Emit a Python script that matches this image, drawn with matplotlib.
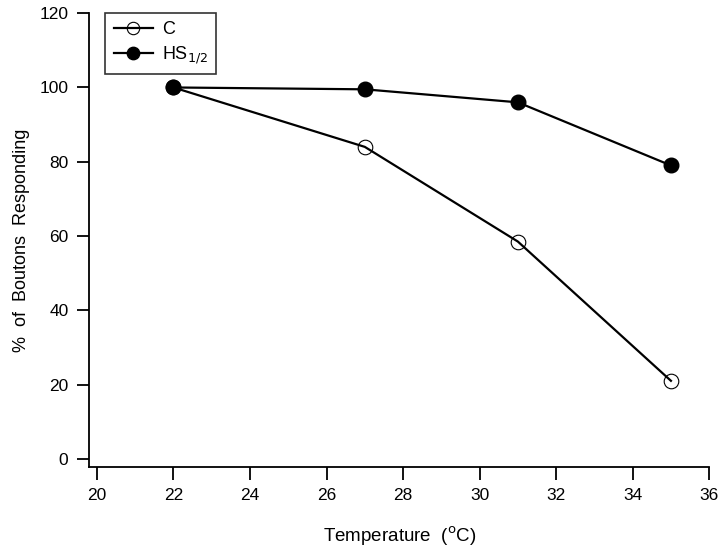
import matplotlib.pyplot as plt

plt.rcParams['font.family'] = ['Liberation Sans', 'DejaVu Sans']

temps = [22, 27, 31, 35]
control = [100, 84, 58.5, 21]
heat_shock = [100, 99.5, 96, 79]

fig = plt.figure(figsize=(7.2, 5.5), dpi=100)
ax = fig.add_axes([0.124, 0.151, 0.861, 0.825])

ax.plot(temps, control, color='black', lw=1.6, marker='o', ms=10.5,
        mfc='none', mec='black', mew=0.8, label='C')
ax.plot(temps, heat_shock, color='black', lw=1.6, marker='o', ms=10.5,
        mfc='black', mec='black', label='HS$_{1/2}$')

ax.set_xlim(19.8, 36)
ax.set_ylim(-2.2, 120)
ax.set_xticks(range(20, 37, 2))
ax.set_yticks(range(0, 121, 20))
ax.spines['top'].set_visible(False)
ax.spines['right'].set_visible(False)
for s in ['left', 'bottom']:
    ax.spines[s].set_linewidth(1.3)
ax.tick_params(direction='out', length=9, width=1.3, labelsize=12.5, pad=6)

ax.set_xlabel('Temperature  ($^{\\rm o}$C)', fontsize=13.5, labelpad=16)
ax.set_ylabel('%  of  Boutons  Responding', fontsize=13, labelpad=7)

leg = ax.legend(loc='upper left', bbox_to_anchor=(0.026, 1.0), fontsize=13,
                frameon=True, fancybox=False, edgecolor='black',
                handlelength=2.2, borderpad=0.45, labelspacing=0.35,
                borderaxespad=0, markerscale=0.85, handletextpad=0.5)
leg.get_frame().set_linewidth(1.2)

fig.savefig('out.png', dpi=100)
